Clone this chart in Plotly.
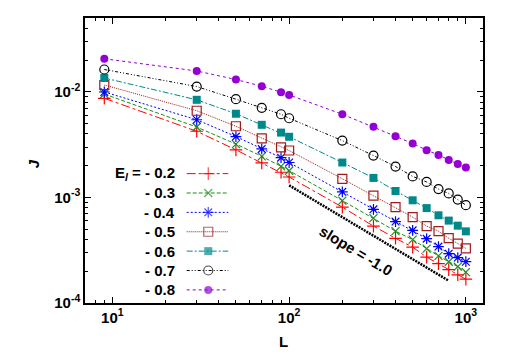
import plotly.graph_objects as go

# system sizes L and current J for each E_l
L = [9, 30, 50, 70, 90, 100, 200, 300, 400, 500, 600, 700, 800, 900, 1000]

J_02 = [0.00868, 0.00423, 0.00282, 0.00212, 0.00173, 0.00156, 0.000809, 0.000535,
        0.000410, 0.000338, 0.000272, 0.000236, 0.000207, 0.000185, 0.000168]
J_03 = [0.00953, 0.00464, 0.00320, 0.00245, 0.00197, 0.00179, 0.000933, 0.000637,
        0.000479, 0.000398, 0.000327, 0.000279, 0.000246, 0.000221, 0.000196]
J_04 = [0.00996, 0.00544, 0.00377, 0.00288, 0.00238, 0.00214, 0.00113, 0.000771,
        0.000590, 0.000488, 0.000407, 0.000342, 0.000293, 0.000269, 0.000246]
J_05 = [0.01160, 0.00662, 0.00472, 0.00363, 0.00298, 0.00278, 0.00150, 0.00104,
        0.000809, 0.000651, 0.000535, 0.000479, 0.000411, 0.000365, 0.000329]
J_06 = [0.01351, 0.00840, 0.00620, 0.00487, 0.00411, 0.00375, 0.00214, 0.00153,
        0.00115, 0.000939, 0.000792, 0.000677, 0.000603, 0.000540, 0.000477]
J_07 = [0.01627, 0.01122, 0.00851, 0.00705, 0.00613, 0.00562, 0.00345, 0.00249,
        0.00196, 0.00158, 0.00140, 0.00120, 0.00109, 0.000953, 0.000845]
J_08 = [0.02055, 0.01575, 0.01308, 0.01130, 0.00991, 0.00933, 0.00613, 0.00466,
        0.00379, 0.00324, 0.00280, 0.00252, 0.00226, 0.00207, 0.00192]

labels = ["- 0.2", "- 0.3", "- 0.4", "- 0.5", "- 0.6", "- 0.7", "- 0.8"]

# reference slope line
slope_L = [100, 800]
slope_J = [1.3e-3, 1.625e-4]

series = [
    (J_02, "#ff0000", "dashdot", "cross-thin", 9, False),
    (J_03, "#1e8c1e", "4px,2px", "x-thin", 8, False),
    (J_04, "#0000ff", "2px,2px", "asterisk-open", 9, False),
    (J_05, "#a01c1c", "1px,1px", "square-open", 9, False),
    (J_06, "#00898b", "6px,2px,2px,2px", "square", 8, True),
    (J_07, "#000000", "3px,2px,1px,2px,1px,2px", "circle-open", 9, False),
    (J_08, "#9400d3", "3px,3px", "circle", 8, True),
]

FONT = "Liberation Sans, Arial, sans-serif"

fig = go.Figure()
for ys, color, dash, symbol, size, filled in series:
    fig.add_trace(go.Scatter(
        x=L, y=ys, mode="lines+markers",
        line={"color": color, "width": 1, "dash": dash},
        marker={"symbol": symbol, "size": size, "color": color,
                "line": {"color": color, "width": 0 if filled else 1.2}},
        showlegend=False,
    ))

fig.add_trace(go.Scatter(
    x=slope_L, y=slope_J, mode="lines",
    line={"color": "black", "width": 2.5, "dash": "2px,1px"},
    showlegend=False,
))

# hand-drawn key (text left, sample right, like gnuplot)
key_x0, key_x1, key_mid = 0.2555, 0.360, 0.3097
key_top, key_step = 0.454, 0.068
for i, (lab, (ys, color, dash, symbol, size, filled)) in enumerate(zip(labels, series)):
    yk = key_top - i * key_step
    fig.add_trace(go.Scatter(
        x=[key_x0, key_mid, key_x1], y=[yk, yk, yk], mode="lines+markers",
        xaxis="x2", yaxis="y2",
        line={"color": color, "width": 1, "dash": dash},
        marker={"symbol": symbol, "size": [0, size, 0], "color": color,
                "line": {"color": color, "width": 0 if filled else 1.2}},
        showlegend=False, hoverinfo="skip",
    ))
    text = ("E<sub><i>l</i></sub> = " if i == 0 else "") + lab
    fig.add_annotation(
        x=0.232, y=yk, xref="paper", yref="paper", xanchor="right", yanchor="middle",
        text=f"<b>{text}</b>", showarrow=False,
        font={"family": FONT, "size": 15, "color": "black"},
    )

fig.add_annotation(
    x=2.378, y=-3.504, xref="x", yref="y", text="<b>slope = -1.0</b>",
    textangle=31, showarrow=False,
    font={"family": FONT, "size": 15, "color": "black"},
)

# axis titles
fig.add_annotation(x=0.499, y=-0.136, xref="paper", yref="paper", yanchor="middle",
                   text="<b>L</b>", showarrow=False,
                   font={"family": FONT, "size": 15, "color": "black"})
fig.add_annotation(x=-0.131, y=0.49, xref="paper", yref="paper", xanchor="center",
                   text="<b><i>J</i></b>", textangle=-90, showarrow=False,
                   font={"family": FONT, "size": 15, "color": "black"})

x_minor = [m * 10 ** k for k in range(0, 4) for m in range(2, 10) if 7 <= m * 10 ** k <= 1250]
y_minor = [m * 10.0 ** k for k in range(-4, -1) for m in range(2, 10) if m * 10.0 ** k <= 0.05]

axis_common = dict(
    type="log", ticks="inside", ticklen=6, tickwidth=1, tickcolor="black",
    mirror="allticks", showline=True, linecolor="black", linewidth=1.5,
    showgrid=False, zeroline=False, automargin=False,
    tickfont={"family": FONT, "size": 15, "color": "black"},
)

# page body keeps its default 8px margin, so the figure is shrunk by that much
fig.update_layout(
    width=498, height=346,
    margin={"l": 77, "r": 23, "t": 10, "b": 51},
    paper_bgcolor="white", plot_bgcolor="white",
    xaxis=dict(
        axis_common, range=[0.845, 3.097],
        tickmode="array", tickvals=[10, 100, 1000],
        ticktext=["<b>10<sup>1</sup></b>", "<b>10<sup>2</sup></b>", "<b>10<sup>3</sup></b>"],
        minor={"tickmode": "array", "tickvals": x_minor, "ticks": "inside",
               "ticklen": 3, "tickcolor": "black", "showgrid": False},
    ),
    yaxis=dict(
        axis_common, range=[-4, -1.301],
        tickmode="array", tickvals=[1e-4, 1e-3, 1e-2],
        ticktext=["<b>10<sup>-4</sup></b>", "<b>10<sup>-3</sup></b>", "<b>10<sup>-2</sup></b>"],
        minor={"tickmode": "array", "tickvals": y_minor, "ticks": "inside",
               "ticklen": 3, "tickcolor": "black", "showgrid": False},
    ),
    xaxis2={"overlaying": "x", "range": [0, 1], "visible": False, "anchor": "y2"},
    yaxis2={"overlaying": "y", "range": [0, 1], "visible": False, "anchor": "x2"},
)

fig.write_html("out.html")
